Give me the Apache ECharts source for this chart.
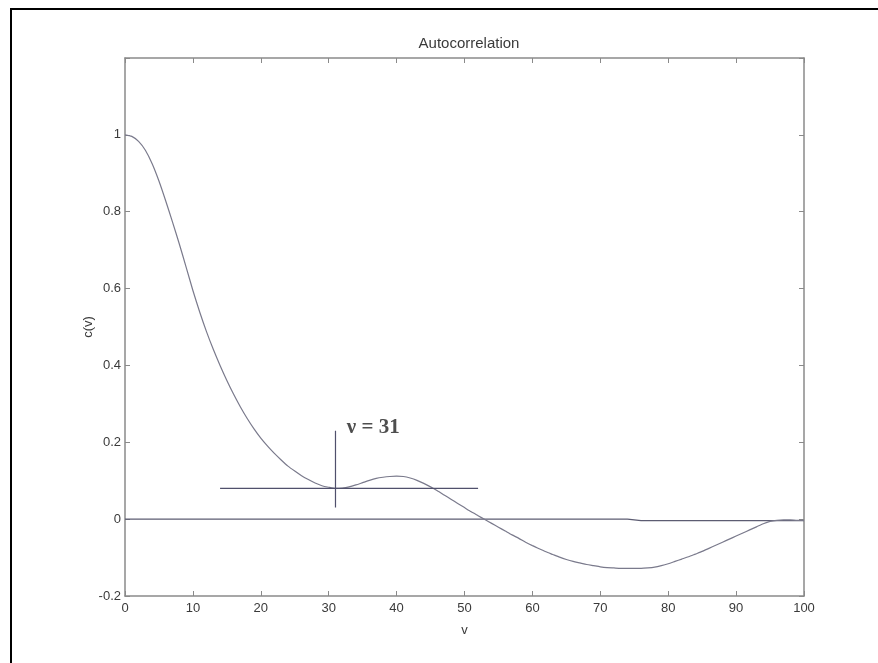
<!DOCTYPE html>
<html>
<head>
<meta charset="utf-8">
<script src="https://cdn.jsdelivr.net/npm/echarts@6/dist/echarts.min.js"></script>
<style>
html,body{margin:0;padding:0;background:#fff;overflow:hidden;width:878px;height:663px;}
#c{width:878px;height:663px;position:absolute;left:0;top:0;}
#frame{position:absolute;left:10px;top:8px;width:866px;height:653px;border-left:2px solid #000;border-top:2px solid #000;pointer-events:none;}
</style>
</head>
<body>
<div id="c"></div>
<div id="frame"></div>
<script>
// Autocorrelation c(v) for v = 0..100
const lagX = [];
for (let i = 0; i <= 100; i++) lagX.push(i);
const corrY = [
 1.000,0.996,0.983,0.960,0.925,0.880,0.828,0.773,0.716,0.656,
 0.595,0.539,0.488,0.442,0.400,0.361,0.325,0.292,0.262,0.235,
 0.211,0.190,0.171,0.154,0.138,0.125,0.113,0.103,0.094,0.087,
 0.083,0.080,0.081,0.084,0.089,0.095,0.101,0.106,0.109,0.111,
 0.112,0.111,0.107,0.101,0.093,0.084,0.074,0.063,0.052,0.041,
 0.030,0.019,0.009,-0.001,-0.011,-0.021,-0.031,-0.041,-0.050,-0.060,
 -0.069,-0.077,-0.085,-0.092,-0.099,-0.105,-0.110,-0.114,-0.118,-0.121,
 -0.124,-0.126,-0.127,-0.128,-0.128,-0.128,-0.128,-0.127,-0.125,-0.121,
 -0.116,-0.110,-0.104,-0.098,-0.091,-0.084,-0.076,-0.068,-0.060,-0.052,
 -0.044,-0.036,-0.028,-0.020,-0.012,-0.006,-0.003,-0.002,-0.002,-0.003,
 -0.003
];
// zero reference line
const zeroX = [0, 74, 76, 100];
const zeroY = [0, 0, -0.004, -0.004];
// threshold marker lines
const hLineX = [14, 52];
const hLineY = [0.08, 0.08];
const vLineX = [31, 31];
const vLineY = [0.03, 0.23];
const annotText = 'ν = 31';
const annotPos = [32.6, 0.238];
const xTicks = [0,10,20,30,40,50,60,70,80,90,100];
const yTicks = [-0.2,0,0.2,0.4,0.6,0.8,1];

const zip = (a,b) => a.map((v,i)=>[v,b[i]]);
const axisCol = '#8a8a8a';
const txtCol = '#3a3a3a';
const font = 'Liberation Sans, Arial, sans-serif';

const chart = echarts.init(document.getElementById('c'), null, {renderer:'canvas'});
chart.setOption({
  backgroundColor:'#fff',
  animation:false,
  title:{text:'Autocorrelation', left:464, top:31, textAlign:'center',
    textStyle:{fontSize:15, fontWeight:'normal', color:txtCol, fontFamily:font}},
  grid:{left:125, right:74, top:58, bottom:67},
  xAxis:[{
    type:'value', min:0, max:100, interval:10, position:'bottom',
    name:'v', nameLocation:'middle', nameGap:28, nameMoveOverlap:false,
    nameTextStyle:{fontSize:13, color:txtCol, fontFamily:font},
    axisLine:{show:true, onZero:false, lineStyle:{color:axisCol, width:1.5}},
    axisTick:{show:true, inside:true, length:5, lineStyle:{color:axisCol}},
    axisLabel:{color:txtCol, fontSize:13, fontFamily:font, margin:6,
      formatter:v => xTicks.includes(v) ? String(v) : ''},
    splitLine:{show:false}
  },{
    type:'value', min:0, max:100, interval:10, position:'top',
    axisLine:{show:true, onZero:false, lineStyle:{color:axisCol, width:1.5}},
    axisTick:{show:true, inside:true, length:5, lineStyle:{color:axisCol}},
    axisLabel:{show:false}, splitLine:{show:false}
  }],
  yAxis:[{
    type:'value', min:-0.2, max:1.2, interval:0.2, position:'left',
    name:'c(v)', nameLocation:'middle', nameGap:30, nameRotate:90, nameMoveOverlap:false,
    nameTextStyle:{fontSize:13, color:txtCol, fontFamily:font},
    axisLine:{show:true, onZero:false, lineStyle:{color:axisCol, width:1.5}},
    axisTick:{show:true, inside:true, length:5, lineStyle:{color:axisCol}},
    axisLabel:{color:txtCol, fontSize:13, fontFamily:font, margin:4,
      formatter:v => {const r=Math.round(v*10)/10; return yTicks.includes(r) ? String(r) : '';}},
    splitLine:{show:false}
  },{
    type:'value', min:-0.2, max:1.2, interval:0.2, position:'right',
    axisLine:{show:true, onZero:false, lineStyle:{color:axisCol, width:1.5}},
    axisTick:{show:true, inside:true, length:5, lineStyle:{color:axisCol}},
    axisLabel:{show:false}, splitLine:{show:false}
  }],
  series:[
    {type:'line', name:'zero', data:zip(zeroX,zeroY), showSymbol:false, symbol:'none',
     lineStyle:{color:'#5c5c72', width:1.2}},
    {type:'line', name:'c', data:zip(lagX,corrY), showSymbol:false, symbol:'none', smooth:0.2,
     lineStyle:{color:'#7a7a8c', width:1.2}},
    {type:'line', name:'h', data:zip(hLineX,hLineY), showSymbol:false, symbol:'none',
     lineStyle:{color:'#50506c', width:1.2}},
    {type:'line', name:'v', data:zip(vLineX,vLineY), showSymbol:false, symbol:'none',
     lineStyle:{color:'#50506c', width:1.2}},
    {type:'scatter', name:'annot', data:[annotPos], symbolSize:1, itemStyle:{color:'rgba(0,0,0,0)'},
     label:{show:true, position:'right', distance:0, formatter:annotText,
       fontSize:21, fontWeight:'bold', color:'#222', fontFamily:'Liberation Serif, Times New Roman, serif'}}
  ]
});
</script>
</body>
</html>
